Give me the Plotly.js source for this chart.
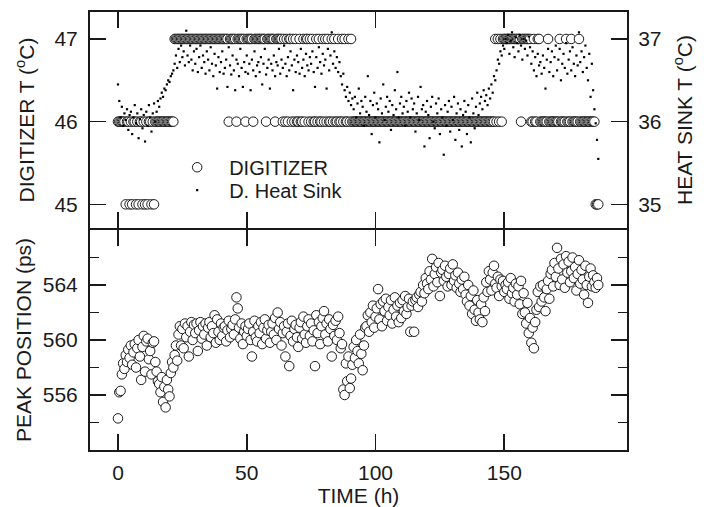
<!DOCTYPE html>
<html>
<head>
<meta charset="utf-8">
<script src="https://cdn.plot.ly/plotly-3.0.1.min.js"></script>
<style>html,body{margin:0;padding:0;background:#fff;}#chart{width:704px;height:507px;}</style>
</head>
<body>
<div id="chart"></div>
<script>
// Sampling: one reading every half hour starting at t = 0 h
const startHour = 0;
const stepHours = 0.5;

// Digitizer temperature (°C), left axis of the top panel
const digitizerT = [
46,46,46,46,46,46,45,46,46,45,
46,45,46,46,45,46,45,46,46,45,
46,45,46,45,46,46,45,46,45,46,
46,46,46,46,46,46,46,46,46,46,
46,46,46,46,47,47,47,47,47,47,
47,47,47,47,47,47,47,47,47,47,
47,47,47,47,47,47,47,47,47,47,
47,47,47,47,47,47,47,47,47,47,
47,47,47,47,47,47,46,47,47,47,
47,47,46,47,47,47,47,47,47,46,
47,47,47,47,47,46,47,47,47,47,
47,47,47,47,47,46,47,47,47,47,
47,47,46,47,47,47,47,47,46,47,
46,47,46,47,47,46,47,46,47,46,
46,47,46,46,47,46,47,47,46,47,
46,47,46,46,47,46,47,46,46,47,
46,47,46,47,46,46,47,46,47,46,
46,47,46,46,47,46,47,46,46,47,
46,47,46,46,46,46,46,46,46,46,
46,46,46,46,46,46,46,46,46,46,
46,46,46,46,46,46,46,46,46,46,
46,46,46,46,46,46,46,46,46,46,
46,46,46,46,46,46,46,46,46,46,
46,46,46,46,46,46,46,46,46,46,
46,46,46,46,46,46,46,46,46,46,
46,46,46,46,46,46,46,46,46,46,
46,46,46,46,46,46,46,46,46,46,
46,46,46,46,46,46,46,46,46,46,
46,46,46,46,46,46,46,46,46,46,
46,46,46,47,46,47,46,47,46,47,
47,47,47,47,47,47,47,47,47,47,
47,47,47,46,47,47,47,47,47,47,
47,46,46,47,46,46,47,47,46,46,
46,46,46,46,47,46,46,46,46,46,
46,46,46,47,46,46,46,46,47,46,
46,46,47,46,46,46,46,46,47,46,
46,46,46,46,46,46,46,46,46,46,
46,45,45,45
];

// Digitizer heat-sink temperature (°C), right axis of the top panel
const heatSinkT = [
36.45,36.25,36.05,36.18,35.95,36.10,36.02,36.15,35.90,36.08,
36.12,35.85,36.05,36.20,35.98,36.10,35.80,36.03,36.15,35.92,
36.08,35.76,36.12,35.95,36.20,36.05,35.88,36.10,36.22,36.00,
36.12,36.25,36.18,36.28,36.35,36.30,36.40,36.38,36.45,36.50,
36.48,36.55,36.58,36.62,36.70,36.80,36.65,36.88,36.72,36.92,
36.78,36.85,36.68,37.10,36.80,36.72,36.92,36.75,36.62,36.85,
36.70,36.88,36.60,36.78,36.92,36.65,36.80,36.72,36.58,36.85,
36.75,36.62,36.90,36.70,36.55,36.82,36.68,36.40,36.78,36.60,
36.72,36.85,36.58,36.65,36.75,36.42,36.90,36.68,36.57,36.80,
36.62,36.38,36.75,36.70,36.55,36.88,36.65,36.42,36.72,36.60,
36.80,36.58,36.70,36.38,36.75,36.62,36.85,36.55,36.68,36.72,
36.60,36.78,36.45,36.70,36.88,36.57,36.65,36.75,36.40,36.70,
36.62,36.80,36.55,36.72,36.68,36.88,36.58,36.75,36.65,36.92,
36.70,36.55,36.78,36.62,36.85,36.68,36.38,36.75,36.60,36.80,
36.72,36.58,36.88,36.65,36.75,36.55,36.82,36.68,36.62,36.78,
36.70,36.85,36.60,36.42,36.78,36.65,36.90,36.72,36.58,36.82,
36.68,36.75,36.40,36.88,36.62,36.80,37.08,36.70,36.85,36.65,
36.78,36.60,36.72,36.55,36.45,36.58,36.38,36.30,36.42,36.25,
36.35,36.20,36.28,36.15,36.30,36.05,36.22,36.40,36.10,36.25,
36.18,35.95,36.30,36.12,36.55,36.08,36.25,35.85,36.20,36.35,
36.05,36.22,36.15,35.75,36.28,36.10,36.45,36.02,36.18,36.30,
36.12,36.25,35.90,36.20,36.08,36.38,36.15,36.60,36.05,36.22,
36.30,36.10,36.18,35.95,36.25,36.12,36.35,36.05,36.28,36.15,
36.22,35.88,36.10,36.30,36.02,36.42,36.15,36.20,35.70,36.12,
36.25,36.08,35.80,36.18,36.30,36.00,35.92,36.22,36.10,36.28,
35.85,36.15,36.05,35.60,36.20,35.95,36.12,36.25,35.88,36.18,
36.02,36.30,35.78,36.10,36.22,35.90,36.15,35.70,36.08,36.25,
36.12,35.85,36.20,36.05,35.75,36.28,36.10,35.92,36.18,36.35,
36.08,36.22,36.30,36.15,36.38,36.25,36.32,36.20,36.40,36.28,
36.45,36.35,36.55,36.50,36.62,36.75,36.70,36.85,36.80,36.92,
36.88,37.00,36.95,37.05,36.82,36.98,37.08,36.90,36.78,37.02,
36.95,36.85,37.05,36.92,36.75,37.00,36.88,36.98,36.80,37.03,
36.90,36.70,36.85,36.62,36.78,36.55,36.82,36.68,36.72,36.58,
36.80,36.65,36.40,36.75,36.88,36.60,36.72,36.85,36.55,36.78,
36.92,36.62,36.75,36.88,36.50,36.70,36.82,36.65,36.95,36.58,
36.75,36.85,36.62,36.90,36.70,36.55,36.80,36.68,37.08,36.72,
36.85,36.60,36.78,36.92,36.65,36.50,36.82,36.30,36.70,36.38,
36.15,35.98,35.78,35.55
];

// Peak position (ps), bottom panel
const peakPosition = [
554.3,556.2,556.3,557.5,558.3,557.9,558.9,558.4,559.3,558.7,
559.6,558.2,559.1,559.7,558.0,559.4,560.0,558.8,557.1,559.5,
560.3,557.7,559.9,560.1,558.6,559.2,557.5,559.8,559.9,558.4,
557.7,557.0,556.8,556.2,557.3,555.5,556.6,555.1,557.1,556.4,
555.9,557.6,558.4,558.0,558.9,559.6,558.5,560.4,561.0,559.6,
560.8,559.4,561.2,560.2,561.0,558.8,560.6,561.3,560.0,561.1,
560.5,561.2,559.2,560.7,561.3,560.1,561.0,560.4,561.2,559.6,
560.9,561.3,560.2,561.0,560.5,561.8,559.8,561.5,560.6,560.0,
561.2,560.3,560.9,561.0,559.9,560.7,561.4,560.2,560.8,561.1,
560.4,561.5,563.1,562.3,560.9,560.1,561.2,559.7,560.6,561.0,
560.3,560.8,561.2,560.0,558.8,560.6,561.4,560.2,559.9,561.0,
560.5,561.3,559.7,560.9,561.5,560.1,560.7,561.1,559.8,560.6,
561.2,560.4,561.6,560.0,562.0,560.8,561.3,559.6,560.5,561.0,
558.8,560.6,561.2,558.1,560.3,561.4,559.9,560.8,561.1,560.2,
559.5,560.9,561.3,560.1,561.7,560.4,559.8,561.0,561.5,560.3,
561.2,559.9,560.7,558.1,561.8,560.5,561.3,559.7,561.0,561.6,
562.1,560.4,561.2,559.9,561.5,560.8,558.8,561.1,560.3,561.4,
560.0,561.7,560.5,559.4,559.7,556.4,556.0,558.3,557.0,558.8,
556.5,557.2,558.2,559.5,558.7,560.0,559.2,558.3,560.4,559.0,
557.8,559.6,560.9,561.0,561.8,560.6,562.0,561.3,562.5,560.9,
561.7,562.3,563.7,561.5,562.6,561.0,562.8,562.1,563.0,561.4,
562.4,561.8,562.9,561.2,562.2,563.1,561.7,562.5,561.3,562.7,
561.6,562.9,562.1,563.2,561.9,562.4,563.0,560.6,562.5,562.8,
560.6,562.9,563.1,562.4,563.3,563.5,562.8,564.0,563.4,564.5,
564.1,563.7,565.0,564.4,565.9,563.9,564.8,565.3,564.2,565.6,
563.2,564.9,565.1,564.3,565.4,564.6,563.9,564.8,565.2,564.0,
565.5,564.3,564.7,563.8,564.9,564.1,563.5,564.4,563.7,564.6,
563.3,562.8,564.0,562.5,563.2,561.9,563.6,562.2,561.4,562.9,
562.0,561.5,562.6,561.3,563.1,562.1,564.2,563.5,565.0,564.4,
563.6,564.9,565.4,564.1,563.8,564.6,563.2,564.4,563.9,564.3,
563.5,564.0,563.7,564.2,563.0,564.5,563.4,563.8,562.8,564.1,
563.3,563.9,562.6,564.3,561.9,563.4,562.0,561.2,562.7,560.5,
561.6,559.8,560.9,559.4,561.3,562.2,563.5,562.4,563.9,562.8,
564.0,563.1,562.1,563.7,564.3,563.0,564.8,565.1,563.9,565.6,
564.6,566.7,565.2,564.0,565.9,564.4,565.5,563.8,566.1,564.9,
565.7,564.2,565.0,566.0,564.5,565.3,563.6,564.8,565.8,564.1,
565.1,564.4,563.3,565.4,564.0,562.7,564.6,565.2,563.9,564.7,
564.2,563.8,564.5,564.0
];

const timeTicks = [0, 50, 100, 150];
const digitizerTicks = [45, 46, 47];
const heatSinkTicks = [35, 36, 37];
const peakTicks = [556, 560, 564];

const hoursFor = arr => arr.map((_, i) => startHour + i * stepHours);

const INK = '#1a1a1a';
const FONT = {family: '"Liberation Sans", Arial, Helvetica, sans-serif', size: 21, color: INK};
const LEGEND_FONT = Object.assign({}, FONT, {size: 20});
const bottomTop = 220 / 438;   // bottom panel occupies 450..230 px
const topBottom = 222 / 438;   // top panel occupies 228..12 px so the shared frame line coincides

const circle = {symbol: 'circle', size: 9.5, color: '#ffffff', line: {color: INK, width: 1}};

const traces = [
  {x: hoursFor(digitizerT), y: digitizerT, type: 'scatter', mode: 'markers', name: 'DIGITIZER',
   xaxis: 'x2', yaxis: 'y', marker: circle, legend: 'legend'},
  {x: hoursFor(heatSinkT), y: heatSinkT, type: 'scatter', mode: 'markers', name: 'D. Heat Sink',
   xaxis: 'x2', yaxis: 'y2', legend: 'legend2',
   marker: {symbol: 'square', size: 2.2, color: '#000', line: {width: 0}}},
  {x: hoursFor(peakPosition), y: peakPosition, type: 'scatter', mode: 'markers', name: 'PEAK POSITION',
   xaxis: 'x', yaxis: 'y3', showlegend: false, marker: circle}
];

const axBase = {showline: true, linecolor: INK, linewidth: 2, ticks: 'inside', tickcolor: INK,
  tickwidth: 1.6, showgrid: false, zeroline: false, tickfont: FONT};

const xRange = [-10.87, 197.65];
const legendBase = {xanchor: 'left', yanchor: 'top', bgcolor: 'rgba(0,0,0,0)', font: LEGEND_FONT, itemwidth: 54};

const layout = {
  width: 704, height: 507,
  margin: {l: 90, r: 77, t: 12, b: 57},
  paper_bgcolor: '#fff', plot_bgcolor: '#fff',
  font: FONT,
  showlegend: true,
  legend: Object.assign({}, legendBase, {x: 0.14, y: 0.69}),
  legend2: Object.assign({}, legendBase, {x: 0.14, y: 0.638}),
  xaxis: Object.assign({}, axBase, {domain: [0, 1], anchor: 'y3', range: xRange, tickvals: timeTicks,
           ticklen: 16, mirror: 'ticks', ticklabelstandoff: 3,
           title: {text: 'TIME (h)', font: FONT, standoff: 0}}),
  xaxis2: Object.assign({}, axBase, {domain: [0, 1], anchor: 'y', matches: 'x', range: xRange,
           tickvals: timeTicks, ticklen: 16, mirror: 'ticks', showticklabels: false}),
  yaxis: Object.assign({}, axBase, {domain: [topBottom, 1], anchor: 'x2', range: [44.714, 47.326],
           tickvals: digitizerTicks, ticklen: 16, ticklabelstandoff: 6,
           title: {text: 'DIGITIZER T (<sup>o</sup>C)', font: FONT, standoff: 14}}),
  yaxis2: Object.assign({}, axBase, {domain: [topBottom, 1], anchor: 'x2', overlaying: 'y', side: 'right',
           range: [34.714, 37.326], tickvals: heatSinkTicks, ticklen: 16, ticklabelstandoff: 5,
           title: {text: 'HEAT SINK T (<sup>o</sup>C)', font: FONT, standoff: 17}}),
  yaxis3: Object.assign({}, axBase, {domain: [0, bottomTop], anchor: 'x', range: [552, 568],
           tickvals: peakTicks, ticklen: 16, mirror: 'ticks', ticklabelstandoff: 6,
           minor: {dtick: 2, tick0: 552, ticklen: 9, tickcolor: INK, tickwidth: 1.6, ticks: 'inside'},
           title: {text: 'PEAK POSITION (ps)', font: FONT, standoff: 5}})
};

Plotly.newPlot('chart', traces, layout, {displayModeBar: false, staticPlot: true});
</script>
</body>
</html>
